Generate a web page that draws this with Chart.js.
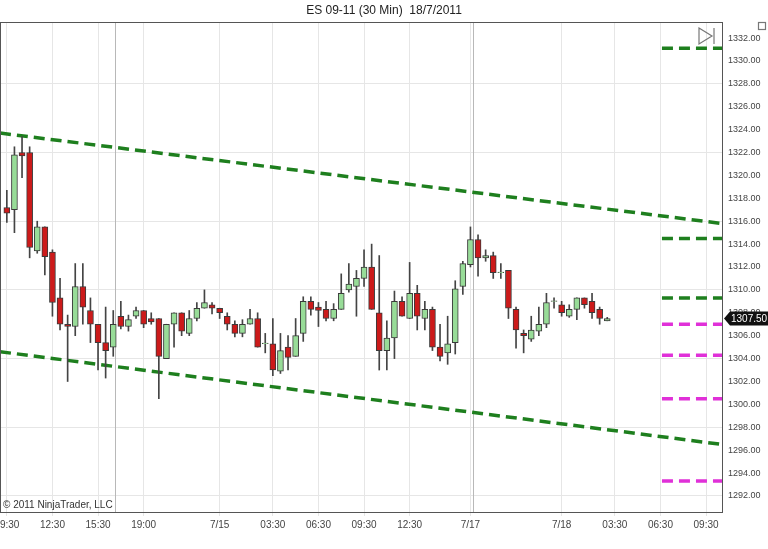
<!DOCTYPE html>
<html>
<head>
<meta charset="utf-8">
<script src="https://cdn.jsdelivr.net/npm/chart.js@4"></script>
<style>
  html, body { margin: 0; padding: 0; background: #fff; }
  #wrap { width: 768px; height: 549px; position: relative; }
</style>
</head>
<body>
<div id="wrap"><canvas id="c"></canvas></div>
<script>
// --- data (30 min bars) ---
const opens  = [1317.2,1317.0,1322.0,1322.0,1313.4,1315.5,1313.3,1309.3,1307.0,1306.8,
                1310.3,1308.2,1307.0,1305.4,1305.0,1307.7,1306.8,1307.7,1308.2,1307.5,
                1307.5,1304.0,1307.0,1308.0,1306.2,1307.5,1308.4,1308.7,1308.4,1307.7,
                1307.0,1306.2,1307.0,1307.5,1305.3,1305.3,1302.9,1305.0,1304.2,1306.2,
                1309.0,1308.5,1308.3,1307.5,1308.3,1310.0,1310.3,1311.0,1312.0,1308.0,
                1304.7,1305.8,1309.0,1307.5,1309.7,1307.5,1308.3,1305.0,1304.5,1305.4,
                1310.3,1312.2,1314.4,1312.8,1313.0,1311.5,1311.7,1308.3,1306.2,1305.7,
                1306.4,1307.0,1309.0,1308.7,1307.7,1308.3,1309.3,1309.0,1308.3,1307.3];
const highs  = [1318.7,1322.5,1323.4,1322.5,1316.0,1315.5,1313.5,1311.0,1307.8,1312.3,
                1312.3,1309.3,1307.0,1308.5,1308.2,1309.0,1307.8,1308.5,1308.2,1308.0,
                1307.5,1307.0,1308.0,1308.0,1308.2,1308.9,1310.0,1308.9,1308.4,1308.0,
                1307.3,1307.4,1308.3,1308.0,1306.2,1307.5,1306.2,1306.0,1307.5,1309.4,
                1309.4,1308.9,1309.0,1308.8,1311.4,1312.3,1311.7,1313.5,1314.0,1313.0,
                1307.3,1309.9,1309.4,1312.4,1310.4,1309.0,1308.5,1307.0,1307.7,1310.8,
                1312.5,1315.5,1314.8,1313.5,1313.3,1312.3,1311.7,1308.5,1306.5,1307.7,
                1308.5,1309.7,1309.3,1309.0,1308.7,1309.3,1309.3,1309.7,1308.5,1307.6];
const lows   = [1315.9,1315.0,1319.8,1312.8,1313.2,1311.3,1307.7,1306.5,1302.0,1306.0,
                1307.0,1305.4,1303.0,1302.3,1304.2,1306.6,1306.4,1307.5,1306.7,1307.0,
                1300.5,1304.0,1305.0,1306.0,1306.0,1307.3,1308.4,1307.9,1307.5,1306.5,
                1305.9,1305.9,1307.0,1305.0,1304.5,1302.5,1302.7,1303.0,1304.2,1305.5,
                1307.8,1306.8,1307.3,1307.3,1308.3,1309.8,1307.7,1310.3,1308.3,1303.0,
                1303.0,1304.0,1307.7,1307.5,1306.5,1306.5,1304.7,1303.8,1303.5,1304.4,
                1309.6,1312.0,1311.2,1312.5,1311.0,1311.0,1307.5,1304.9,1304.5,1305.5,
                1306.0,1306.7,1308.4,1307.7,1307.6,1307.4,1308.4,1307.5,1307.0,1307.3];
const closes = [1316.7,1321.8,1321.7,1313.7,1315.5,1312.9,1308.9,1307.0,1306.8,1310.3,
                1308.5,1307.0,1305.4,1304.7,1307.0,1306.8,1307.4,1308.2,1307.0,1307.2,
                1304.2,1307.0,1308.0,1306.4,1307.5,1308.4,1308.9,1308.4,1308.0,1307.0,
                1306.2,1307.0,1307.5,1305.0,1305.35,1303.0,1304.7,1304.1,1306.0,1309.0,
                1308.3,1308.2,1307.5,1308.3,1309.7,1310.5,1311.0,1312.0,1308.3,1304.7,
                1305.8,1309.0,1307.7,1309.7,1307.7,1308.3,1305.0,1304.2,1305.3,1310.1,
                1312.3,1314.4,1312.8,1313.0,1311.5,1311.55,1308.4,1306.5,1306.0,1306.5,
                1307.0,1308.9,1309.05,1308.0,1308.3,1309.3,1308.7,1308.0,1307.5,1307.5];

// x-axis tick labels (bar index -> label)
const tickIndex  = [0, 6, 12, 18, 28, 35, 41, 47, 53, 61, 73, 80, 86, 92];
const tickLabels = ['09:30','12:30','15:30','19:00','7/15','03:30','06:30','09:30','12:30','7/17','7/18','03:30','06:30','09:30'];
const sessionBreaks = [14.2, 61.3];

// channel lines [startIndex, startValue, endIndex, endValue]
const upperChannel = [-0.9, 1323.7, 94.1, 1315.8];
const lowerChannel = [-0.9, 1304.6, 94.1, 1296.5];

// horizontal levels drawn on the right side
const levelStart = 86.2, levelEnd = 94.1;
const greenLevels   = [1331.1, 1314.5, 1309.3];
const magentaLevels = [1307.0, 1304.3, 1300.5, 1293.3];
const lastPrice = 1307.50;

const upColor = '#98dc98', downColor = '#cc1a1a';
const channelGreen = '#1e7f1e', levelMagenta = '#e030d8';

const idx = opens.map((_, i) => i);
const bodyColors = idx.map(i => closes[i] >= opens[i] ? upColor : downColor);

const datasets = [
  {
    type: 'bar', label: 'bodies', order: 0, grouped: false,
    data: idx.map(i => ({ x: i, y: [opens[i], closes[i]] })),
    backgroundColor: bodyColors, borderColor: '#3a3a3a', borderWidth: 1,
    borderSkipped: false, barThickness: 6
  },
  {
    type: 'bar', label: 'wicks', order: 1, grouped: false,
    data: idx.map(i => ({ x: i, y: [lows[i], highs[i]] })),
    backgroundColor: '#444', barThickness: 1
  },
  {
    type: 'line', order: 2, data: [{x: upperChannel[0], y: upperChannel[1]}, {x: upperChannel[2], y: upperChannel[3]}],
    borderColor: channelGreen, borderWidth: 3.5, borderDash: [11, 6], pointRadius: 0
  },
  {
    type: 'line', order: 2, data: [{x: lowerChannel[0], y: lowerChannel[1]}, {x: lowerChannel[2], y: lowerChannel[3]}],
    borderColor: channelGreen, borderWidth: 3.5, borderDash: [11, 6], pointRadius: 0
  }
];
greenLevels.forEach(v => datasets.push({
  type: 'line', order: 2, data: [{x: levelStart, y: v}, {x: levelEnd, y: v}],
  borderColor: channelGreen, borderWidth: 3.5, borderDash: [11, 6], pointRadius: 0
}));
magentaLevels.forEach(v => datasets.push({
  type: 'line', order: 2, data: [{x: levelStart, y: v}, {x: levelEnd, y: v}],
  borderColor: levelMagenta, borderWidth: 3.5, borderDash: [11, 6], pointRadius: 0
}));

const decor = {
  id: 'decor',
  beforeDatasetsDraw(chart) {
    const { ctx, chartArea: a, scales: { x } } = chart;
    ctx.save();
    ctx.strokeStyle = '#b8b8b8';
    ctx.lineWidth = 1;
    sessionBreaks.forEach(b => {
      const px = Math.round(x.getPixelForValue(b)) + 0.5;
      ctx.beginPath(); ctx.moveTo(px, a.top); ctx.lineTo(px, a.bottom); ctx.stroke();
    });
    ctx.restore();
  },
  afterDraw(chart) {
    const { ctx, chartArea: a, scales: { y } } = chart;
    ctx.save();
    // title
    ctx.fillStyle = '#222';
    ctx.font = '12px "Liberation Sans", Arial, sans-serif';
    ctx.textAlign = 'center'; ctx.textBaseline = 'middle';
    ctx.fillText('ES 09-11 (30 Min)  18/7/2011', 384, 11);
    // frame
    ctx.strokeStyle = '#555'; ctx.lineWidth = 1;
    ctx.strokeRect(0.5, a.top + 0.5, a.right, a.bottom - a.top);
    // copyright
    ctx.textAlign = 'left';
    ctx.font = '10px "Liberation Sans", Arial, sans-serif';
    ctx.fillStyle = '#333';
    ctx.fillText('\u00a9 2011 NinjaTrader, LLC', 3, a.bottom - 7);
    // last price marker
    const py = y.getPixelForValue(lastPrice);
    ctx.fillStyle = '#111';
    ctx.beginPath();
    ctx.moveTo(a.right + 2, py);
    ctx.lineTo(a.right + 8, py - 7);
    ctx.lineTo(a.right + 46, py - 7);
    ctx.lineTo(a.right + 46, py + 7);
    ctx.lineTo(a.right + 8, py + 7);
    ctx.closePath(); ctx.fill();
    ctx.fillStyle = '#fff';
    ctx.fillText(lastPrice.toFixed(2), a.right + 9, py + 1);
    // "go to end" icon
    ctx.strokeStyle = '#777'; ctx.lineWidth = 1.2;
    ctx.beginPath();
    ctx.moveTo(699, 28); ctx.lineTo(712, 36); ctx.lineTo(699, 44); ctx.closePath();
    ctx.moveTo(714, 28); ctx.lineTo(714, 44);
    ctx.stroke();
    ctx.strokeRect(758.5, 22.5, 7, 7);
    ctx.restore();
  }
};

new Chart(document.getElementById('c'), {
  data: { datasets },
  options: {
    responsive: true,
    maintainAspectRatio: false,
    animation: false,
    layout: { padding: { top: 22, left: 0, right: 0, bottom: 0 } },
    plugins: { legend: { display: false }, tooltip: { enabled: false } },
    scales: {
      x: {
        type: 'linear', min: -0.9, max: 94.1, offset: false,
        afterBuildTicks: (s) => { s.ticks = tickIndex.map(v => ({ value: v })); },
        afterFit: (s) => { s.height = 37; s.paddingLeft = 0; s.paddingRight = 0; },
        grid: { color: '#e6e6e6', drawTicks: true, tickLength: 4, offset: false },
        border: { color: '#555' },
        ticks: {
          color: '#444', font: { size: 10, family: '"Liberation Sans", Arial, sans-serif' },
          maxRotation: 0, autoSkip: false,
          callback: (v) => { const k = tickIndex.indexOf(v); return k >= 0 ? tickLabels[k] : ''; }
        }
      },
      y: {
        position: 'right', min: 1290.6, max: 1333.4,
        afterBuildTicks: (s) => {
          const t = [];
          for (let v = 1292; v <= 1332; v += 2) t.push({ value: v });
          s.ticks = t;
        },
        afterFit: (s) => { s.width = 46; },
        grid: {
          color: (c) => (Math.round(c.tick.value) % 6 === 2 ? '#e6e6e6' : 'rgba(0,0,0,0)'),
          drawTicks: false
        },
        border: { color: '#555' },
        ticks: {
          color: '#444', padding: 6,
          font: { size: 9, family: '"Liberation Sans", Arial, sans-serif' },
          callback: (v) => v.toFixed(2)
        }
      }
    }
  },
  plugins: [decor]
});
</script>
</body>
</html>
